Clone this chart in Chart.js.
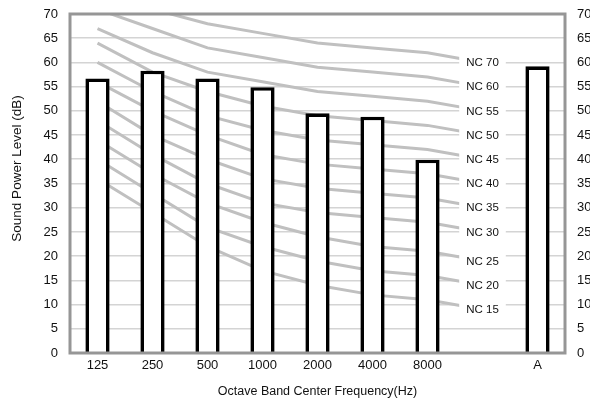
<!DOCTYPE html>
<html><head><meta charset="utf-8">
<script src="https://cdn.jsdelivr.net/npm/chart.js@4.4.1/dist/chart.umd.min.js"></script>
<style>html,body{margin:0;padding:0;background:#fff}#wrap{width:590px;height:402px}</style>
</head><body><div id="wrap"><canvas id="c" width="590" height="402"></canvas></div>
<script>
// ---- data ----
const categories = ['125', '250', '500', '1000', '2000', '4000', '8000', '', 'A'];
const soundPower = [56.7, 58.3, 56.7, 54.9, 49.5, 48.8, 39.9, null, 59.2];
const ncNames = ['NC 15', 'NC 20', 'NC 25', 'NC 30', 'NC 35', 'NC 40', 'NC 45', 'NC 50', 'NC 55', 'NC 60', 'NC 70'];
const nc15 = [36, 29, 22, 17, 14, 12, 11, 9, null];
const nc20 = [40, 33, 26, 22, 19, 17, 16, 14, null];
const nc25 = [44, 37, 31, 27, 24, 22, 21, 19, null];
const nc30 = [48, 41, 35, 31, 29, 28, 27, 25, null];
const nc35 = [52, 45, 40, 36, 34, 33, 32, 30, null];
const nc40 = [56, 50, 45, 41, 39, 38, 37, 35, null];
const nc45 = [60, 54, 49, 46, 44, 43, 42, 40, null];
const nc50 = [64, 58, 54, 51, 49, 48, 47, 45, null];
const nc55 = [67, 62, 58, 56, 54, 53, 52, 50, null];
const nc60 = [71, 67, 63, 61, 59, 58, 57, 55, null];
const nc65 = [75, 71, 68, 66, 64, 63, 62, 60, null];
const ncSeries = [nc15, nc20, nc25, nc30, nc35, nc40, nc45, nc50, nc55, nc60, nc65];
const yMin = 0, yMax = 70, yStep = 5;
const yTitle = 'Sound Power Level (dB)';
const xTitle = 'Octave Band Center Frequency(Hz)';

const FONT = "'Liberation Sans', Arial, sans-serif";
const TXT = '#111';

const datasets = [{
  type: 'bar', label: 'Sound Power', data: soundPower,
  backgroundColor: '#ffffff', borderColor: '#000000', borderWidth: 3.6,
  borderSkipped: 'start', categoryPercentage: 1, barPercentage: 0.44, order: 0
}];
ncSeries.forEach((s, i) => datasets.push({
  type: 'line', label: ncNames[i], ncLabel: ncNames[i], data: s,
  borderColor: '#c0c0c0', borderWidth: 3, pointRadius: 0, tension: 0,
  fill: false, order: 1
}));

const overlay = {
  id: 'overlay',
  afterDatasetsDraw(chart) {
    const ctx = chart.ctx, a = chart.chartArea;
    ctx.save();
    ctx.strokeStyle = '#969696'; ctx.lineWidth = 3;
    ctx.strokeRect(a.left, a.top, a.right - a.left, a.bottom - a.top);
    ctx.font = '11.5px ' + FONT; ctx.textAlign = 'center'; ctx.textBaseline = 'middle';
    chart.data.datasets.forEach((ds, i) => {
      if (!ds.ncLabel) return;
      const meta = chart.getDatasetMeta(i);
      let idx = -1;
      ds.data.forEach((v, k) => { if (v !== null) idx = k; });
      const pt = meta.data[idx];
      const w = ctx.measureText(ds.ncLabel).width + 14;
      ctx.fillStyle = '#ffffff'; ctx.fillRect(pt.x - w / 2, pt.y - 8, w, 16);
      ctx.fillStyle = TXT; ctx.fillText(ds.ncLabel, pt.x, pt.y + 0.5);
    });
    // y axis title
    ctx.font = '13.5px ' + FONT; ctx.fillStyle = TXT;
    ctx.translate(17, (a.top + a.bottom) / 2 - 15);
    ctx.rotate(-Math.PI / 2);
    ctx.fillText(yTitle, 0, 0);
    ctx.restore();
  }
};

function fixV(width) {
  return function (s) { s.width = width; s.paddingTop = 0; s.paddingBottom = 0; };
}

new Chart(document.getElementById('c'), {
  data: { labels: categories, datasets },
  options: {
    responsive: false, animation: false, devicePixelRatio: 1,
    layout: { padding: { top: 14, left: 0, right: 0, bottom: 0 } },
    plugins: { legend: { display: false }, tooltip: { enabled: false } },
    scales: {
      x: {
        type: 'category', offset: true,
        grid: { display: false, drawTicks: false },
        border: { display: false },
        ticks: { padding: 5, color: TXT, font: { family: FONT, size: 13 }, maxRotation: 0, autoSkip: false },
        title: { display: true, text: xTitle, color: TXT, font: { family: FONT, size: 12.5 }, padding: { top: 0, bottom: 3 } },
        afterFit(s) { s.height = 49; s.paddingLeft = 0; s.paddingRight = 0; }
      },
      y: {
        position: 'left', min: yMin, max: yMax,
        grid: { color: '#d4d4d4', lineWidth: 1.6, drawTicks: false },
        border: { display: false },
        ticks: { stepSize: yStep, padding: 12, color: TXT, font: { family: FONT, size: 13 } },
        afterFit: fixV(70)
      },
      y2: {
        position: 'right', min: yMin, max: yMax,
        grid: { display: false, drawTicks: false },
        border: { display: false },
        ticks: { stepSize: yStep, padding: 12, color: TXT, font: { family: FONT, size: 13 } },
        afterFit: fixV(25)
      }
    }
  },
  plugins: [overlay]
});
</script></body></html>
